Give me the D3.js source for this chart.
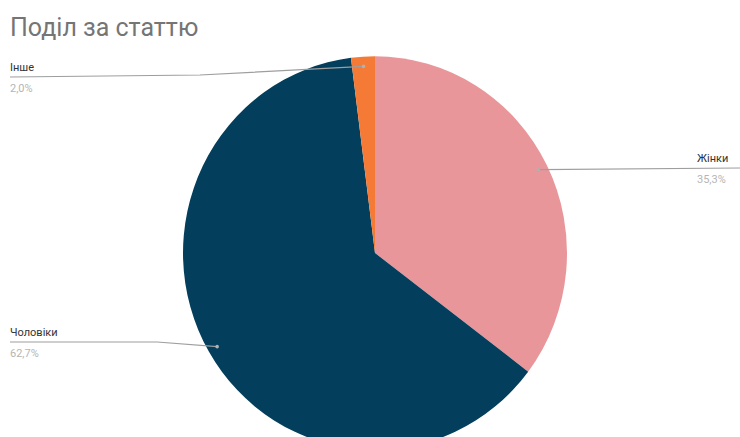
<!DOCTYPE html>
<html>
<head>
<meta charset="utf-8">
<script src="https://cdn.jsdelivr.net/npm/d3@7/dist/d3.min.js"></script>
<style>
  html, body { margin: 0; padding: 0; background: #fff; }
  svg { display: block; font-family: Roboto, "Noto Sans", sans-serif; }
</style>
</head>
<body>
<svg id="chart" width="740" height="437"></svg>
<script>
// Gender split
const categories = ["Жінки", "Чоловіки", "Інше"];
const values = [35.3, 62.7, 2.0];
const valueLabels = ["35,3%", "62,7%", "2,0%"];
const colors = ["#e8969a", "#033f5c", "#f47a36"];
const title = "Поділ за статтю";

const W = 740, H = 437;
const cx = 375, cy = 253, R = 192, stretchY = 1.025;

const svg = d3.select("#chart");

svg.append("text")
  .attr("x", 10).attr("y", 36)
  .attr("fill", "#757575")
  .attr("font-size", 25)
  .text(title);

const data = categories.map((c, i) => ({ name: c, value: values[i], label: valueLabels[i], color: colors[i] }));

const pie = d3.pie().sort(null).value(d => d.value);
const arcs = pie(data);
const arc = d3.arc().innerRadius(0).outerRadius(R);

const g = svg.append("g").attr("transform", `translate(${cx},${cy}) scale(1,${stretchY})`);
g.selectAll("path").data(arcs).join("path")
  .attr("d", arc)
  .attr("fill", d => d.data.color);

// anchor point of each leader line, just inside the rim
function anchor(d) {
  const a = (d.startAngle + d.endAngle) / 2;
  return [cx + Math.sin(a) * R * 0.95, cy - Math.cos(a) * R * 0.95 * stretchY];
}

// label placement: side and line height
const labelLayout = {
  "Жінки": { x: 697, lineY: 168, side: "right" },
  "Чоловіки": { x: 10, lineY: 342, side: "left" },
  "Інше": { x: 10, lineY: 77, side: "left" }
};

const labels = svg.append("g");
arcs.forEach(d => {
  const L = labelLayout[d.data.name];
  const [ax, ay] = anchor(d);
  let pts;
  if (L.side === "right") {
    pts = [[ax, ay], [W, L.lineY]];
  } else if (d.data.name === "Інше") {
    pts = [[L.x, L.lineY], [200, L.lineY - 2], [ax, ay]];
  } else {
    pts = [[L.x, L.lineY], [ax - 60, L.lineY], [ax, ay]];
  }
  labels.append("path")
    .attr("d", d3.line()(pts))
    .attr("fill", "none")
    .attr("stroke", "#9e9e9e")
    .attr("stroke-width", 1.2);
  labels.append("circle")
    .attr("cx", ax).attr("cy", ay).attr("r", 1.8)
    .attr("fill", "#b0b0b0");
  labels.append("text")
    .attr("x", L.x).attr("y", L.lineY - 6)
    .attr("font-size", 11)
    .attr("fill", "#333")
    .text(d.data.name);
  labels.append("text")
    .attr("x", L.x).attr("y", L.lineY + 15)
    .attr("font-size", 11)
    .attr("fill", "#b5b5b5")
    .text(d.data.label);
});
</script>
</body>
</html>
